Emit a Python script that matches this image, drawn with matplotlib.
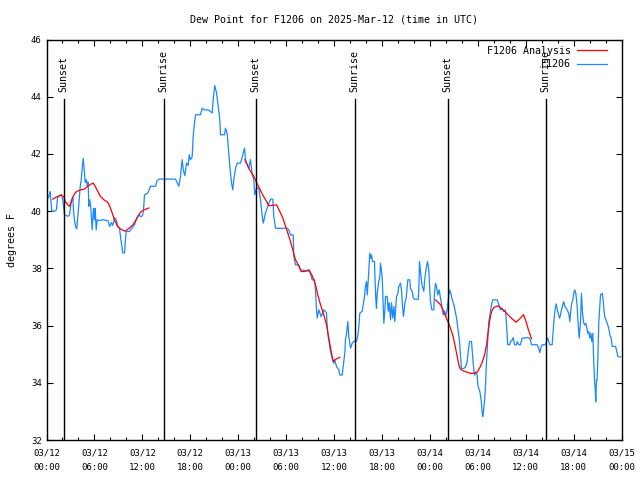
import datetime as dt
import matplotlib
matplotlib.use("Agg")
import matplotlib.pyplot as plt
import matplotlib.dates as mdates

# hours after 2025-03-12 00:00 UTC, dew point in F
obs_hours = [0.25, 0.46, 0.66, 1.0, 1.25, 1.38, 1.84, 2.04, 2.25, 2.67, 2.88, 3.09, 3.29, 3.42,
             3.63, 3.79, 3.92, 4.04, 4.22, 4.35, 4.47, 4.6, 4.72, 4.85, 5.01, 5.1, 5.22, 5.3,
             5.42, 5.55, 5.72, 5.89, 6.01, 6.1, 6.22, 6.35, 6.64, 7.05, 7.68, 7.93, 8.1, 8.3,
             8.51, 8.73, 8.93, 9.14, 9.27, 9.43, 9.55, 9.77, 9.89, 9.98, 10.39, 10.68, 11.02,
             11.31, 11.56, 11.86, 12.06, 12.18, 12.27, 12.68, 13.02, 13.65, 13.81, 14.06,
             16.15, 16.57, 16.78, 16.99, 17.12, 17.32, 17.53, 17.74, 17.87, 18.03, 18.24,
             18.37, 18.53, 18.66, 19.28, 19.5, 19.7, 20.32, 20.75, 20.87, 21.07, 21.29, 21.5,
             21.7, 21.79, 22.29, 22.41, 22.63, 22.75, 22.95, 23.17, 23.33, 23.45, 23.67,
             23.88, 24.29, 24.42, 24.63, 24.79, 24.92, 25.13, 25.33, 25.54, 25.76, 25.96,
             26.08, 26.29, 26.58, 26.8, 27.01, 27.14, 27.42, 27.84, 28.05, 28.34, 28.46,
             28.68, 30.14, 30.34, 30.55, 30.89, 30.97, 31.18, 31.59, 31.81, 32.97, 33.27,
             33.56, 33.68, 33.81, 33.9, 34.1, 34.22, 34.4, 34.72, 35.06, 35.15, 35.27, 35.44,
             35.56, 35.77, 35.98, 36.1, 36.31, 36.48, 36.6, 36.73, 37.03, 37.15, 37.35, 37.44,
             37.57, 37.73, 37.85, 38.07, 38.28, 38.48, 38.82, 38.98, 39.1, 39.23, 39.53,
             39.66, 39.82, 39.94, 40.07, 40.16, 40.28, 40.41, 40.48, 40.61, 40.7, 40.82,
             41.07, 41.11, 41.24, 41.32, 41.41, 41.61, 41.74, 41.82, 41.95, 42.04, 42.16,
             42.24, 42.36, 42.45, 42.66, 42.79, 42.91, 43.08, 43.2, 43.36, 43.49, 43.61,
             43.83, 44.0, 44.11, 44.33, 44.45, 44.58, 44.7, 44.87, 45.04, 45.24, 45.49,
             45.58, 45.79, 45.92, 46.08, 46.54, 46.62, 46.71, 46.83, 46.96, 47.05, 47.25,
             47.33, 47.46, 47.58, 47.71, 47.87, 47.96, 48.08, 48.25, 48.5, 48.58, 48.71,
             48.83, 49.0, 49.17, 49.34, 49.55, 49.67, 49.84, 49.96, 50.17, 50.38, 50.5,
             50.68, 50.8, 51.01, 51.13, 51.34, 51.5, 51.72, 51.84, 51.96, 52.25, 52.46,
             52.68, 52.8, 52.97, 53.22, 53.31, 53.44, 53.59, 53.72, 53.93, 54.01, 54.26,
             54.43, 54.56, 54.63, 54.76, 54.88, 54.97, 55.1, 55.26, 55.38, 55.6, 55.72,
             55.89, 56.43, 56.64, 56.85, 57.06, 57.26, 57.47, 57.6, 57.76, 58.01, 58.1,
             58.31, 58.44, 58.6, 58.85, 58.94, 59.14, 59.35, 59.56, 60.39, 60.6, 60.73,
             61.44, 61.64, 61.77, 61.94, 62.07, 62.48, 62.61, 62.77, 62.9, 63.02, 63.32,
             63.45, 63.57, 63.7, 63.83, 63.95, 64.08, 64.24, 64.37, 64.49, 64.65, 64.78,
             64.9, 65.07, 65.2, 65.4, 65.53, 65.62, 65.74, 65.9, 66.03, 66.15, 66.28, 66.45,
             66.57, 66.7, 66.87, 66.99, 67.12, 67.28, 67.41, 67.53, 67.66, 67.78, 67.91,
             68.04, 68.16, 68.28, 68.41, 68.5, 68.62, 68.71, 68.78, 68.87, 68.95, 69.08,
             69.15, 69.28, 69.37, 69.58, 69.7, 69.78, 69.91, 70.21, 70.41, 70.54, 70.71,
             70.84, 71.25, 71.37, 71.54, 71.87]
obs_dewp = [40.47, 40.69, 40.0, 40.0, 40.05, 40.47, 40.57, 40.4, 39.87, 39.82, 39.87, 40.3, 40.5, 39.87,
            39.46, 39.38, 39.8, 40.2, 40.86, 41.1, 41.5, 41.85, 41.45, 41.0, 41.1, 40.86, 41.0, 40.17,
            40.4, 40.1, 39.35, 40.1, 39.7, 40.1, 39.35, 39.7, 39.67, 39.7, 39.67, 39.46, 39.6, 39.5,
            39.77, 39.7, 39.46, 39.4, 39.1, 38.77, 38.54, 38.54, 39.0, 39.29, 39.29, 39.4, 39.52,
            39.77, 39.87, 39.8, 39.87, 40.17, 40.57, 40.63, 40.87, 40.87, 41.04, 41.12,
            41.12, 40.87, 41.22, 41.8, 41.45, 41.24, 41.68, 41.6, 41.97, 41.8, 41.9,
            42.62, 43.08, 43.37, 43.37, 43.6, 43.55, 43.53, 43.43, 43.9, 44.39, 44.13, 43.67,
            43.2, 42.67, 42.67, 42.9, 42.7, 42.27, 41.57, 40.98, 40.75, 41.1, 41.5,
            41.68, 41.68, 41.8, 42.03, 42.2, 41.8, 41.62, 41.5, 41.8, 41.28, 41.1,
            40.57, 40.8, 40.8, 40.4, 39.82, 39.58, 39.93, 40.28, 40.42, 40.42, 39.82,
            39.4, 39.4, 39.35, 39.17, 39.17, 38.42, 38.12, 38.12, 37.95, 37.89, 37.6,
            37.6, 37.25, 36.55, 36.26, 36.55, 36.45, 36.31, 36.55, 36.45, 35.97, 35.62, 35.33,
            35.09, 34.86, 34.68, 34.8, 34.57, 34.5, 34.45, 34.27, 34.27, 34.57, 35.03, 35.5,
            35.73, 36.14, 35.62, 35.21, 35.38, 35.45, 35.45, 35.67, 35.9, 36.43, 36.5,
            36.73, 37.02, 37.37, 37.54, 37.07, 37.54, 38.18, 38.53, 38.35, 38.47, 38.24,
            38.24, 37.83, 36.9, 36.6, 37.13, 37.54, 37.71, 38.18, 37.9, 37.66, 36.67,
            36.08, 36.5, 37.02, 37.02, 36.5, 36.8, 36.2, 36.8, 36.26, 36.67, 36.14,
            37.02, 37.13, 37.37, 37.48, 37.25, 36.67, 36.32, 36.78, 36.96, 37.6, 37.6,
            37.3, 37.2, 36.96, 36.92, 36.92, 37.25, 38.24, 37.9, 37.54, 37.37, 37.2,
            37.54, 37.83, 38.06, 38.24, 37.95, 37.43, 36.84, 36.55, 36.55, 37.13, 37.48,
            37.37, 37.07, 37.25, 36.96, 36.6, 36.38, 36.5, 36.32, 36.55, 37.07, 37.25,
            37.07, 36.9, 36.73, 36.55, 36.27, 35.92, 35.44, 34.97, 34.5, 34.5, 34.55,
            34.74, 35.09, 35.44, 35.44, 35.09, 34.63, 34.27, 34.38, 34.27, 33.92, 33.69,
            33.4, 32.93, 32.82, 33.1, 33.46, 33.92, 34.74, 35.56, 36.14, 36.49, 36.73,
            36.9, 36.9, 36.73, 36.55, 36.6, 36.49, 36.55, 36.03, 35.33, 35.33, 35.44,
            35.5, 35.58, 35.33, 35.33, 35.44, 35.33, 35.33, 35.56, 35.58, 35.5, 35.33,
            35.33, 35.2, 35.05, 35.27, 35.33, 35.33, 35.44, 35.56, 35.44, 35.33, 35.33,
            35.85, 36.26, 36.6, 36.76, 36.55, 36.43, 36.26, 36.38, 36.55, 36.73, 36.84,
            36.67, 36.6, 36.55, 36.43, 36.14, 36.43, 36.73, 36.9, 37.13, 37.25, 37.13, 36.67,
            36.08, 35.56, 36.14, 37.13, 36.43, 36.08, 36.02, 36.08, 35.9, 35.73, 35.79,
            35.56, 35.73, 35.44, 35.73, 34.92, 34.1, 33.75, 33.34, 34.1, 34.1, 35.27,
            36.08, 36.67, 37.07, 37.13, 36.9, 36.6, 36.31, 36.08, 35.9, 35.67, 35.56,
            35.27, 35.27, 35.15, 34.92, 34.9]

# analysis comes in three separate pieces
ana_hours = [
    [0.79, 1.21, 1.84, 2.17, 2.34, 2.67, 2.88, 3.17, 3.51, 3.79, 4.35, 4.76, 5.17, 5.6, 5.85,
     6.1, 6.42, 6.76, 7.18, 7.68, 8.01, 8.3, 8.6, 8.85, 9.27, 9.85, 10.39, 10.81, 11.23,
     11.56, 11.86, 12.27, 12.81],
    [24.83, 25.13, 25.54, 25.96, 26.3, 26.67, 27.01, 27.55, 27.84, 28.26, 28.8, 29.21, 29.59,
     29.93, 30.22, 30.55, 30.89, 31.18, 31.52, 31.89, 32.31, 32.85, 33.27, 33.68, 33.97,
     34.31, 34.72, 35.06, 35.35, 35.65, 35.9, 36.19, 36.73],
    [48.71, 49.34, 49.75, 50.17, 50.5, 50.8, 51.01, 51.22, 51.43, 51.63, 51.84, 52.25, 52.68,
     53.09, 53.59, 53.93, 54.26, 54.56, 54.85, 55.1, 55.31, 55.51, 55.72, 56.01, 56.51,
     56.98, 57.47, 57.88, 58.31, 58.81, 59.23, 59.73, 60.07, 60.35, 60.73],
]
ana_dewp = [
    [40.42, 40.49, 40.57, 40.5, 40.34, 40.22, 40.17, 40.4, 40.61, 40.69, 40.75, 40.77, 40.87,
     40.95, 40.98, 40.87, 40.69, 40.51, 40.4, 40.31, 40.11, 39.87, 39.64, 39.49, 39.37, 39.3,
     39.41, 39.52, 39.7, 39.87, 39.99, 40.05, 40.11],
    [41.8, 41.62, 41.39, 41.22, 41.0, 40.8, 40.6, 40.34, 40.19, 40.2, 40.22, 39.99, 39.76,
     39.47, 39.23, 38.94, 38.59, 38.3, 38.12, 37.89, 37.89, 37.95, 37.74, 37.43, 37.07,
     36.73, 36.38, 36.03, 35.56, 35.09, 34.74, 34.82, 34.89],
    [36.9, 36.73, 36.49, 36.2, 35.97, 35.73, 35.5, 35.21, 34.92, 34.63, 34.47, 34.41, 34.37,
     34.33, 34.33, 34.37, 34.53, 34.72, 34.97, 35.33, 35.79, 36.2, 36.49, 36.63, 36.69,
     36.6, 36.47, 36.35, 36.23, 36.12, 36.23, 36.38, 36.12, 35.85, 35.54],
]

sun_labels = ["Sunset", "Sunrise", "Sunset", "Sunrise", "Sunset", "Sunrise"]
sun_hours = [2.17, 14.69, 26.21, 38.61, 50.25, 62.52]

start = dt.datetime(2025, 3, 12)


def to_time(hours):
    return [start + dt.timedelta(hours=h) for h in hours]


plt.rcParams['font.family'] = ['DejaVu Sans Mono']

fig = plt.figure(figsize=(6.4, 4.8), dpi=100)
ax = fig.add_axes([46.5 / 640, 1 - 440 / 480, 575 / 640, 400.5 / 480])

for i in range(len(ana_hours)):
    ax.plot(to_time(ana_hours[i]), ana_dewp[i], color='red', lw=0.9,
            label="F1206 Analysis" if i == 0 else None, zorder=3)
ax.plot(to_time(obs_hours), obs_dewp, color='#1a88ff', lw=0.9, label="F1206", zorder=2)

for lab, h in zip(sun_labels, sun_hours):
    t = start + dt.timedelta(hours=h)
    ax.plot([t, t], [32, 43.93], color='black', lw=1.0, zorder=4)
    ax.text(t, 44.15, lab, rotation=90, ha='center', va='bottom', fontsize=7.2)

ax.set_xlim(start, start + dt.timedelta(hours=72))
ax.set_ylim(32, 46)
ax.set_yticks(range(32, 47, 2))
ax.xaxis.set_major_locator(mdates.HourLocator(byhour=range(0, 24, 6)))
ax.xaxis.set_minor_locator(mdates.HourLocator(byhour=range(0, 24, 2)))
ax.xaxis.set_major_formatter(mdates.DateFormatter('%m/%d\n%H:%M'))
ax.tick_params(which='both', direction='in', top=True, right=True, labelsize=6.5)
ax.tick_params(which='major', length=4, width=0.8)
ax.tick_params(which='minor', length=2.5, width=0.8)
ax.tick_params(axis='x', pad=6)
for s in ax.spines.values():
    s.set_linewidth(1.0)

ax.set_title("Dew Point for F1206 on 2025-Mar-12 (time in UTC)", fontsize=7.2, pad=12)
ax.set_ylabel("degrees F", fontsize=7.2, labelpad=10)

ax.legend(loc='upper right', frameon=False, markerfirst=False, fontsize=7.2,
          handlelength=3.0, handletextpad=0.6, labelspacing=0.35,
          borderaxespad=0.2, bbox_to_anchor=(0.985, 1.0))

fig.canvas.draw()
for tk in ax.xaxis.get_major_ticks():
    tk.label1.set_linespacing(1.75)

fig.savefig("out.png", dpi=100)
